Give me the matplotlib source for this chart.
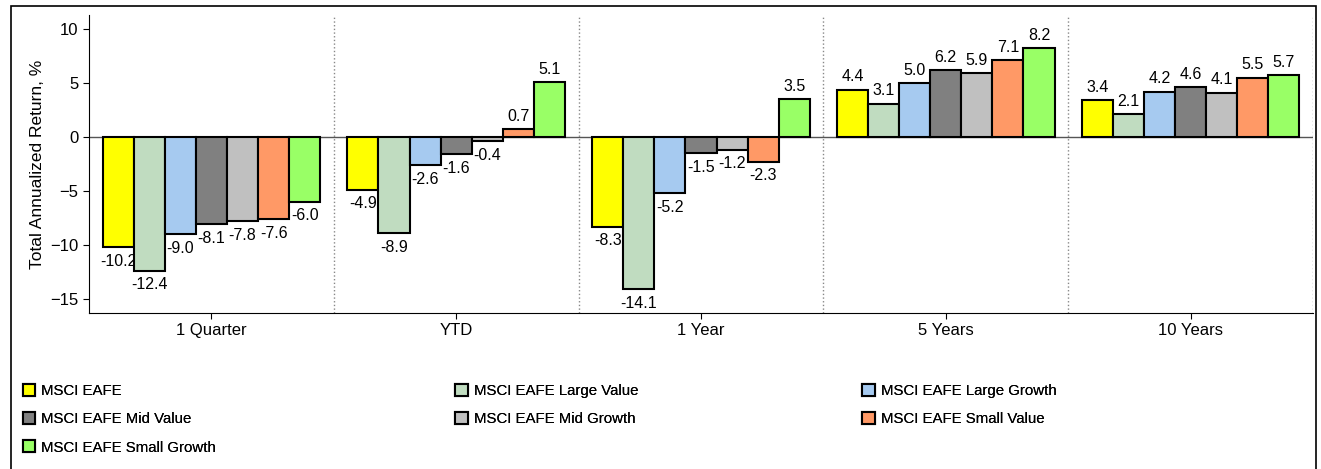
import matplotlib.pyplot as plt
import numpy as np
from matplotlib.patches import Rectangle

periods = ["1 Quarter", "YTD", "1 Year", "5 Years", "10 Years"]
series = ["MSCI EAFE", "MSCI EAFE Large Value", "MSCI EAFE Large Growth",
          "MSCI EAFE Mid Value", "MSCI EAFE Mid Growth", "MSCI EAFE Small Value",
          "MSCI EAFE Small Growth"]
eafe = [-10.2, -4.9, -8.3, 4.4, 3.4]
large_value = [-12.4, -8.9, -14.1, 3.1, 2.1]
large_growth = [-9.0, -2.6, -5.2, 5.0, 4.2]
mid_value = [-8.1, -1.6, -1.5, 6.2, 4.6]
mid_growth = [-7.8, -0.4, -1.2, 5.9, 4.1]
small_value = [-7.6, 0.7, -2.3, 7.1, 5.5]
small_growth = [-6.0, 5.1, 3.5, 8.2, 5.7]
values = [eafe, large_value, large_growth, mid_value, mid_growth, small_value, small_growth]
colors = ["#ffff00", "#c0dcc0", "#a6caf0", "#808080", "#c0c0c0", "#ff9966", "#99ff66"]

plt.rcParams['font.family'] = ['Liberation Sans', 'DejaVu Sans']

fig = plt.figure(figsize=(13.21, 4.69), dpi=100)
ax = fig.add_axes([0.0674, 0.3326, 0.9265, 0.6354])
fig.patches.append(Rectangle((0.0083, -0.02), 0.988, 1.007, transform=fig.transFigure,
                             fill=False, edgecolor="black", linewidth=1.2))

x = np.arange(len(periods))
w = 0.127
handles = []
for i, (name, vals, c) in enumerate(zip(series, values, colors)):
    pos = x + (i - 3) * w
    h = ax.bar(pos, vals, w, color=c, edgecolor="black", linewidth=1.5, label=name, zorder=3)
    handles.append(h)
    for p, v in zip(pos, vals):
        if v >= 0:
            ax.text(p, v + 0.5, f"{v:.1f}", ha="center", va="bottom", fontsize=11.5)
        else:
            ax.text(p, v - 0.6, f"{v:.1f}", ha="center", va="top", fontsize=11.5)

ax.axhline(0, color="#555555", linewidth=1, zorder=2)
for b in np.arange(0.5, len(periods), 1):
    ax.axvline(b, color="#888888", linestyle=":", linewidth=1, zorder=1)

ax.set_xlim(-0.5, len(periods) - 0.5)
ax.set_ylim(-16.3, 11.3)
ax.set_yticks([-15, -10, -5, 0, 5, 10])
ax.set_xticks(x)
ax.set_xticklabels(periods)
ax.tick_params(axis="both", labelsize=12, length=4)
ax.set_ylabel("Total Annualized Return, %", fontsize=12.5)
ax.spines["top"].set_visible(False)
ax.spines["right"].set_visible(False)

# legend laid out row by row in three columns
col_x = [0.0125, 0.340, 0.648]
for col in range(3):
    idx = list(range(col, len(series), 3))
    leg = fig.legend([handles[k] for k in idx], [series[k] for k in idx],
                     loc="upper left", bbox_to_anchor=(col_x[col], 0.195), ncol=1,
                     frameon=False, fontsize=10.8, handlelength=0.85, handleheight=0.85,
                     handletextpad=0.4, labelspacing=0.95, borderaxespad=0)
    fig.add_artist(leg)

fig.savefig("out.png", dpi=100)
